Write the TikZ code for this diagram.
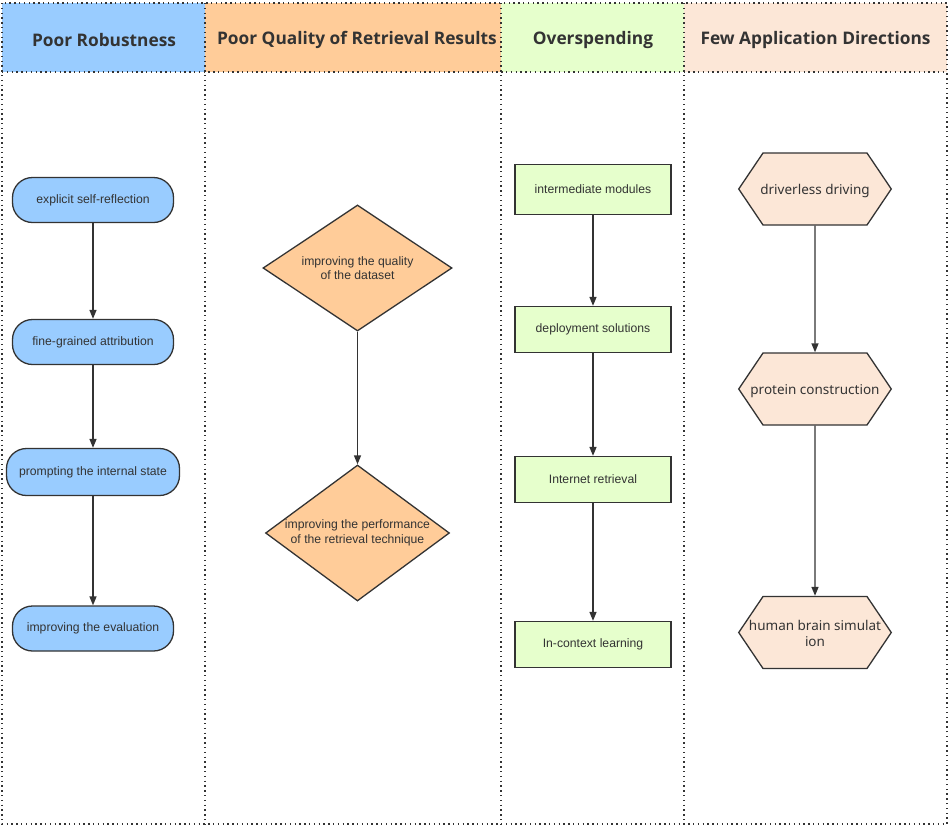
\documentclass[tikz,border=0pt]{standalone}
\usepackage{fontspec}
\setmainfont{Liberation Sans}
\newfontfamily\headfont{Open Sans}
\newfontfamily\yafont{Noto Sans}
\usetikzlibrary{shapes.geometric,shapes.symbols,arrows.meta}
\definecolor{robust}{HTML}{99CCFF}
\definecolor{quality}{HTML}{FFCC99}
\definecolor{spend}{HTML}{E6FFCC}
\definecolor{apply}{HTML}{FCE7D7}
\definecolor{ink}{HTML}{333333}
\newcommand\hexlabel[1]{\makebox[104pt]{\raisebox{-2.5pt}[\height][\depth]{\begin{tabular}{@{}c@{}}#1\end{tabular}}}}

\begin{document}
\begin{tikzpicture}[x=1pt,y=-1pt,
    frame/.style={ink,line width=1.4pt,dash pattern=on 1.4pt off 3.4pt},
    head/.style={text=ink,font=\headfont\bfseries\fontsize{17.3}{21}\selectfont},
    box/.style={draw=ink,line width=1.3pt,text=ink,align=center,inner sep=0pt,
      font=\fontsize{12.2}{14.5}\selectfont},
    pill/.style={box,fill=robust,rounded corners=20pt,minimum width=161pt,minimum height=45pt},
    gem/.style={box,diamond,fill=quality,aspect=1.5},
    card/.style={box,fill=spend,minimum width=156pt,minimum height=48pt},
    hexa/.style={box,signal,signal to=west and east,signal pointer angle=112,fill=apply,
      minimum height=72pt,font=\yafont\fontsize{13.5}{16}\selectfont},
    link/.style={ink,line width=1.4pt,-{Triangle[length=9pt,width=7pt]}}]
  \useasboundingbox (0,0) rectangle (951,828);
  % header cells
  \fill[robust] (2,3) rectangle (205,72);
  \fill[quality] (205,3) rectangle (501,72);
  \fill[spend] (501,3) rectangle (684,72);
  \fill[apply] (684,3) rectangle (947,72);
  \draw[frame] (2,3) rectangle (947,824);
  \draw[frame] (2,72) -- (947,72);
  \foreach \x in {205,501,684} \draw[frame] (\x,3) -- (\x,824);
  \node[head] (h1) at (104,40) {Poor Robustness};
  \node[head] (h2) at (357,40) {Poor Quality of Retrieval Results};
  \node[head] (h3) at (593,40) {Overspending};
  \node[head] (h4) at (815.5,40) {Few Application Directions};
  % robustness
  \node[pill] (r1) at (93,200) {explicit self-reflection};
  \node[pill] (r2) at (93,342) {fine-grained attribution};
  \node[pill,minimum width=173pt,minimum height=47pt] (r3) at (93,472) {prompting the internal state};
  \node[pill] (r4) at (93,628.5) {improving the evaluation};
  \draw[link] (r1) -- (r2);
  \draw[link] (r2) -- (r3);
  \draw[link] (r3) -- (r4);
  % retrieval quality
  \node[gem,minimum width=189pt,minimum height=126pt] (q1) at (357.5,268) {improving the quality\\of the dataset};
  \node[gem,minimum width=181pt,minimum height=136pt] (q2) at (357.5,533) {improving the performance\\of the retrieval technique};
  \draw[link] (q1) -- (q2);
  % overspending
  \node[card,minimum height=50pt] (s1) at (593,189.5) {intermediate modules};
  \node[card,minimum height=46pt] (s2) at (593,329.5) {deployment solutions};
  \node[card,minimum height=46pt] (s3) at (593,479.5) {Internet retrieval};
  \node[card,minimum height=46pt] (s4) at (593,644.5) {In-context learning};
  \draw[link] (s1) -- (s2);
  \draw[link] (s2) -- (s3);
  \draw[link] (s3) -- (s4);
  % applications
  \node[hexa] (a1) at (815,189) {\hexlabel{driverless driving}};
  \node[hexa] (a2) at (815,389) {\hexlabel{protein construction}};
  \node[hexa] (a3) at (815,632.5) {\hexlabel{human brain simulat\\ion}};
  \draw[link] (a1) -- (a2);
  \draw[link] (a2) -- (a3);
\end{tikzpicture}
\end{document}
